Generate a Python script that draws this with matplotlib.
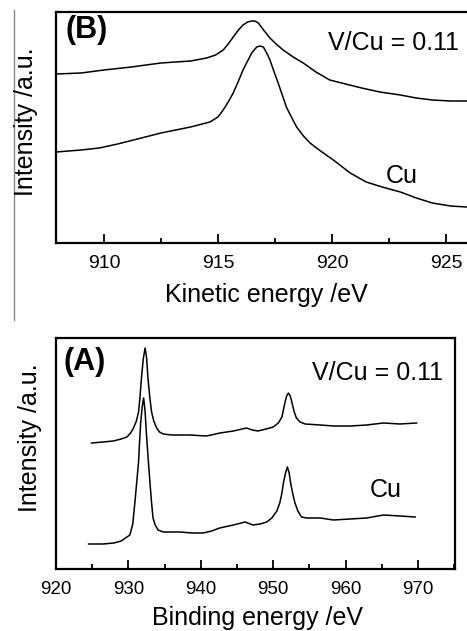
import matplotlib
matplotlib.use('Agg')
import matplotlib.pyplot as plt
from matplotlib.lines import Line2D
from matplotlib.ticker import MultipleLocator

plt.rcParams['font.family'] = ['Liberation Sans', 'DejaVu Sans']

# ---- Panel B: Kinetic energy (Auger) ----
ke_vcu = [907.9, 909.0, 910.0, 911.2, 912.5, 913.8, 914.5, 914.9, 915.23, 915.45, 915.67, 915.9,
          916.1, 916.3, 916.48, 916.62, 916.77, 917.0, 917.28, 917.55, 917.86, 918.3, 918.74,
          919.3, 919.9, 920.6, 921.3, 922.1, 923.0, 923.7, 924.4, 925.2, 925.9]
int_vcu = [169, 170, 173, 176, 180, 182, 185, 188, 193, 199, 206, 213,
           218, 221, 222, 222, 220, 213, 205, 199, 193, 186, 180,
           171, 163, 159, 155, 151, 148, 145, 143, 142, 142]

ke_cu = [907.9, 909.0, 909.8, 910.6, 911.3, 912.5, 913.8, 914.65, 915.0, 915.23, 915.45, 915.67,
         915.9, 916.1, 916.3, 916.48, 916.7, 916.85, 916.99, 917.14, 917.28, 917.45, 917.64,
         917.82, 918.0, 918.22, 918.45, 918.75, 919.04, 919.5, 920.06, 920.8, 921.5, 922.2,
         923.0, 923.7, 924.4, 925.2, 925.9]
int_cu = [91, 93, 95, 99, 103, 110, 116, 121, 126, 133, 141, 150,
          162, 173, 182, 190, 196, 197, 196, 190, 183, 172, 160,
          148, 136, 126, 116, 107, 100, 92, 83, 70, 61, 56,
          51, 45, 40, 37, 36]

# ---- Panel A: Binding energy (XPS Cu 2p) ----
be_vcu = [924.9, 926.5, 927.9, 929.0, 929.8, 930.3, 930.7, 931.1, 931.4, 931.6, 931.8, 932.05,
          932.3, 932.5, 932.7, 932.95, 933.2, 933.5, 933.9, 934.3, 934.8, 936.0, 938.5, 940.8,
          942.65, 944.5, 946.3, 947.1, 947.9, 949.0, 950.0, 950.7, 951.2, 951.6, 951.85, 952.1,
          952.35, 952.6, 952.9, 953.2, 953.7, 954.4, 956.5, 958.3, 960.6, 962.9, 965.2, 967.5, 969.8]
int_a_vcu = [126, 127, 128, 130, 132, 136, 141, 148, 157, 172, 191, 210,
             221, 212, 191, 172, 157, 148, 141, 137, 135, 134, 134, 133,
             136, 138, 141, 139, 138, 140, 142, 146, 152, 166, 173, 176,
             173, 166, 157, 151, 147, 145, 144, 143, 143, 144, 146, 145, 146]

be_cu = [924.5, 926.5, 928.0, 929.0, 929.6, 930.2, 930.6, 930.9, 931.15, 931.4, 931.55, 931.7,
         931.9, 932.1, 932.3, 932.5, 932.75, 933.0, 933.2, 933.4, 933.7, 934.1, 934.8, 935.7,
         937.1, 938.8, 940.3, 941.5, 942.6, 944.5, 946.1, 947.2, 948.2, 949.1, 949.8, 950.5,
         950.9, 951.2, 951.4, 951.7, 951.95, 952.2, 952.4, 952.7, 953.0, 953.4, 953.9, 954.6,
         956.5, 958.3, 960.6, 962.9, 965.2, 967.5, 969.6]
int_a_cu = [25, 25, 26, 28, 31, 34, 45, 67, 87, 107, 128, 147,
            162, 171, 158, 134, 108, 84, 66, 51, 44, 39, 37, 37,
            37, 36, 36, 38, 41, 44, 47, 44, 45, 47, 51, 58,
            66, 76, 86, 96, 102, 96, 86, 75, 66, 58, 52, 51,
            51, 49, 50, 51, 54, 53, 52]

W, H = 467, 631
fig = plt.figure(figsize=(W / 100, H / 100), dpi=100)

axB = fig.add_axes([56 / W, 1 - 243 / H, 411 / W, 231 / H])
axA = fig.add_axes([56 / W, 1 - 569 / H, 399 / W, 231 / H])

lw = 1.1
axB.plot(ke_vcu, int_vcu, color='black', lw=lw)
axB.plot(ke_cu, int_cu, color='black', lw=lw)
axA.plot(be_vcu, int_a_vcu, color='black', lw=lw)
axA.plot(be_cu, int_a_cu, color='black', lw=lw)

axB.set_xlim(907.9, 925.92)
axA.set_xlim(920, 975.1)
for ax in (axA, axB):
    ax.set_ylim(0, 231)
    ax.set_yticks([])
    for sp in ax.spines.values():
        sp.set_linewidth(1.6)
    ax.tick_params(axis='x', which='major', direction='in', length=6.5, width=1.3, pad=9)
    ax.tick_params(axis='x', which='minor', direction='in', length=3.6, width=1.3)
axB.spines['right'].set_visible(False)

axB.xaxis.set_major_locator(MultipleLocator(5))
axB.xaxis.set_minor_locator(MultipleLocator(2.5))
axA.xaxis.set_major_locator(MultipleLocator(10))
axA.xaxis.set_minor_locator(MultipleLocator(5))
axB.tick_params(axis='x', labelsize=14)
axA.tick_params(axis='x', labelsize=13.5)

# Panel texts
axB.text(0.022, 0.922, '(B)', transform=axB.transAxes, fontsize=22, fontweight='bold', va='center', ha='left')
axB.text(0.662, 0.866, 'V/Cu = 0.11', transform=axB.transAxes, fontsize=18, va='center', ha='left')
axB.text(0.803, 0.29, 'Cu', transform=axB.transAxes, fontsize=18, va='center', ha='left')

axA.text(0.02, 0.896, '(A)', transform=axA.transAxes, fontsize=22, fontweight='bold', va='center', ha='left')
axA.text(0.642, 0.848, 'V/Cu = 0.11', transform=axA.transAxes, fontsize=18, va='center', ha='left')
axA.text(0.787, 0.342, 'Cu', transform=axA.transAxes, fontsize=18, va='center', ha='left')

# Axis labels
fig.text(266 / W, 1 - 302 / H, 'Kinetic energy /eV', fontsize=18, ha='center', va='baseline')
fig.text(257 / W, 1 - 625 / H, 'Binding energy /eV', fontsize=18, ha='center', va='baseline')
fig.text(26 / W, 1 - 122 / H, 'Intensity /a.u.', fontsize=18, rotation=90, ha='center', va='center')
fig.text(30 / W, 1 - 438 / H, 'Intensity /a.u.', fontsize=18, rotation=90, ha='center', va='center')

# grey vertical rule at left
fig.add_artist(Line2D([14 / W, 14 / W], [1 - 10 / H, 1 - 320 / H], color='#8a8a8a', lw=1.0))

fig.savefig('out.png', dpi=100)
